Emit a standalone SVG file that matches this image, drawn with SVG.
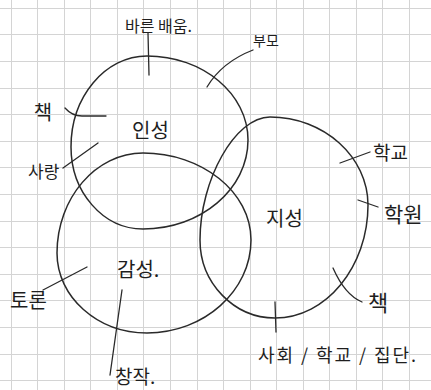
<svg xmlns="http://www.w3.org/2000/svg" width="431" height="390" viewBox="0 0 431 390">
  <style>
    .grid { fill: none; stroke: #d4d4d4; stroke-width: 1; }
    .ring { fill: none; stroke: #2a2a2a; stroke-width: 1.5; stroke-linecap: round; }
    .con { fill: none; stroke: #2a2a2a; stroke-width: 1.3; stroke-linecap: round; }
    .lbl { font-family: "Noto Sans CJK KR", "Noto Sans", sans-serif; fill: #1e1e1e; font-weight: 400; }
  </style>
  <rect width="431" height="390" fill="#ffffff"/>
  <path class="grid" d="M11.5,0V390 M37.5,0V390 M64.5,0V390 M90.5,0V390 M117.5,0V390 M143.5,0V390 M170.5,0V390 M197.5,0V390 M223.5,0V390 M250.5,0V390 M276.5,0V390 M303.5,0V390 M329.5,0V390 M356.5,0V390 M382.5,0V390 M409.5,0V390 M0,8.5H431 M0,34.5H431 M0,61.5H431 M0,88.5H431 M0,114.5H431 M0,141.5H431 M0,167.5H431 M0,194.5H431 M0,221.5H431 M0,247.5H431 M0,274.5H431 M0,300.5H431 M0,327.5H431 M0,354.5H431 M0,380.5H431"/>

  <g id="node-insung">
    <path class="ring" d="M147,56 C203,56 248,94 248,140 C248,189 201,229 143,229 C103,229 71,192 71,147 C71,97 105,56 147,56 Z"/>
    <text class="lbl" x="132" y="138" font-size="20">인성</text>
  </g>
  <g id="node-gamsung">
    <path class="ring" d="M143,153 C202,153 251,192 251,240 C251,291 204,333 147,333 C97.5,333 57,297 57,253 C57,198 96,153 143,153 Z"/>
    <text class="lbl" x="117" y="277" font-size="20">감성.</text>
  </g>
  <g id="node-jisung">
    <path class="ring" d="M270,117 C324,117 368,157 368,205 C368,267 326,318 275,318 C234,318 200,283 200,240 C200,180 235,117 270,117 Z"/>
    <text class="lbl" x="266" y="226" font-size="20">지성</text>
  </g>

  <g id="label-bareun"><text class="lbl" x="125" y="32" font-size="16">바른 배움.</text></g>
  <g id="label-bumo"><text class="lbl" x="253" y="46" font-size="14">부모</text></g>
  <g id="label-chaek1"><text class="lbl" x="43" y="120" font-size="20" text-anchor="middle">책</text></g>
  <g id="label-sarang"><text class="lbl" x="28" y="178" font-size="17">사랑</text></g>
  <g id="label-hakgyo"><text class="lbl" x="373" y="160" font-size="19">학교</text></g>
  <g id="label-hagwon"><text class="lbl" x="384" y="222" font-size="21">학원</text></g>
  <g id="label-chaek2"><text class="lbl" x="368" y="311" font-size="22">책</text></g>
  <g id="label-sahoe"><text class="lbl" x="258" y="362" font-size="18" textLength="158">사회 / 학교 / 집단.</text></g>
  <g id="label-toron"><text class="lbl" x="10" y="308" font-size="20">토론</text></g>
  <g id="label-changjak"><text class="lbl" x="115" y="384" font-size="19">창작.</text></g>

  <g id="connectors">
    <path class="con" stroke-width="2" d="M148,33 L149,75"/>
    <path class="con" d="M253,50 Q222,62 207,87"/>
    <path class="con" d="M65,108 Q72,116 82,116 L106,116"/>
    <path class="con" d="M63,168 L98,143"/>
    <path class="con" d="M370,152 L340,163"/>
    <path class="con" d="M358,200 L378,207"/>
    <path class="con" d="M333,268 Q345,295 362,302"/>
    <path class="con" d="M275,302 L276,332"/>
    <path class="con" d="M43,290 L87,267"/>
    <path class="con" d="M122,290 L110,375"/>
  </g>
</svg>
